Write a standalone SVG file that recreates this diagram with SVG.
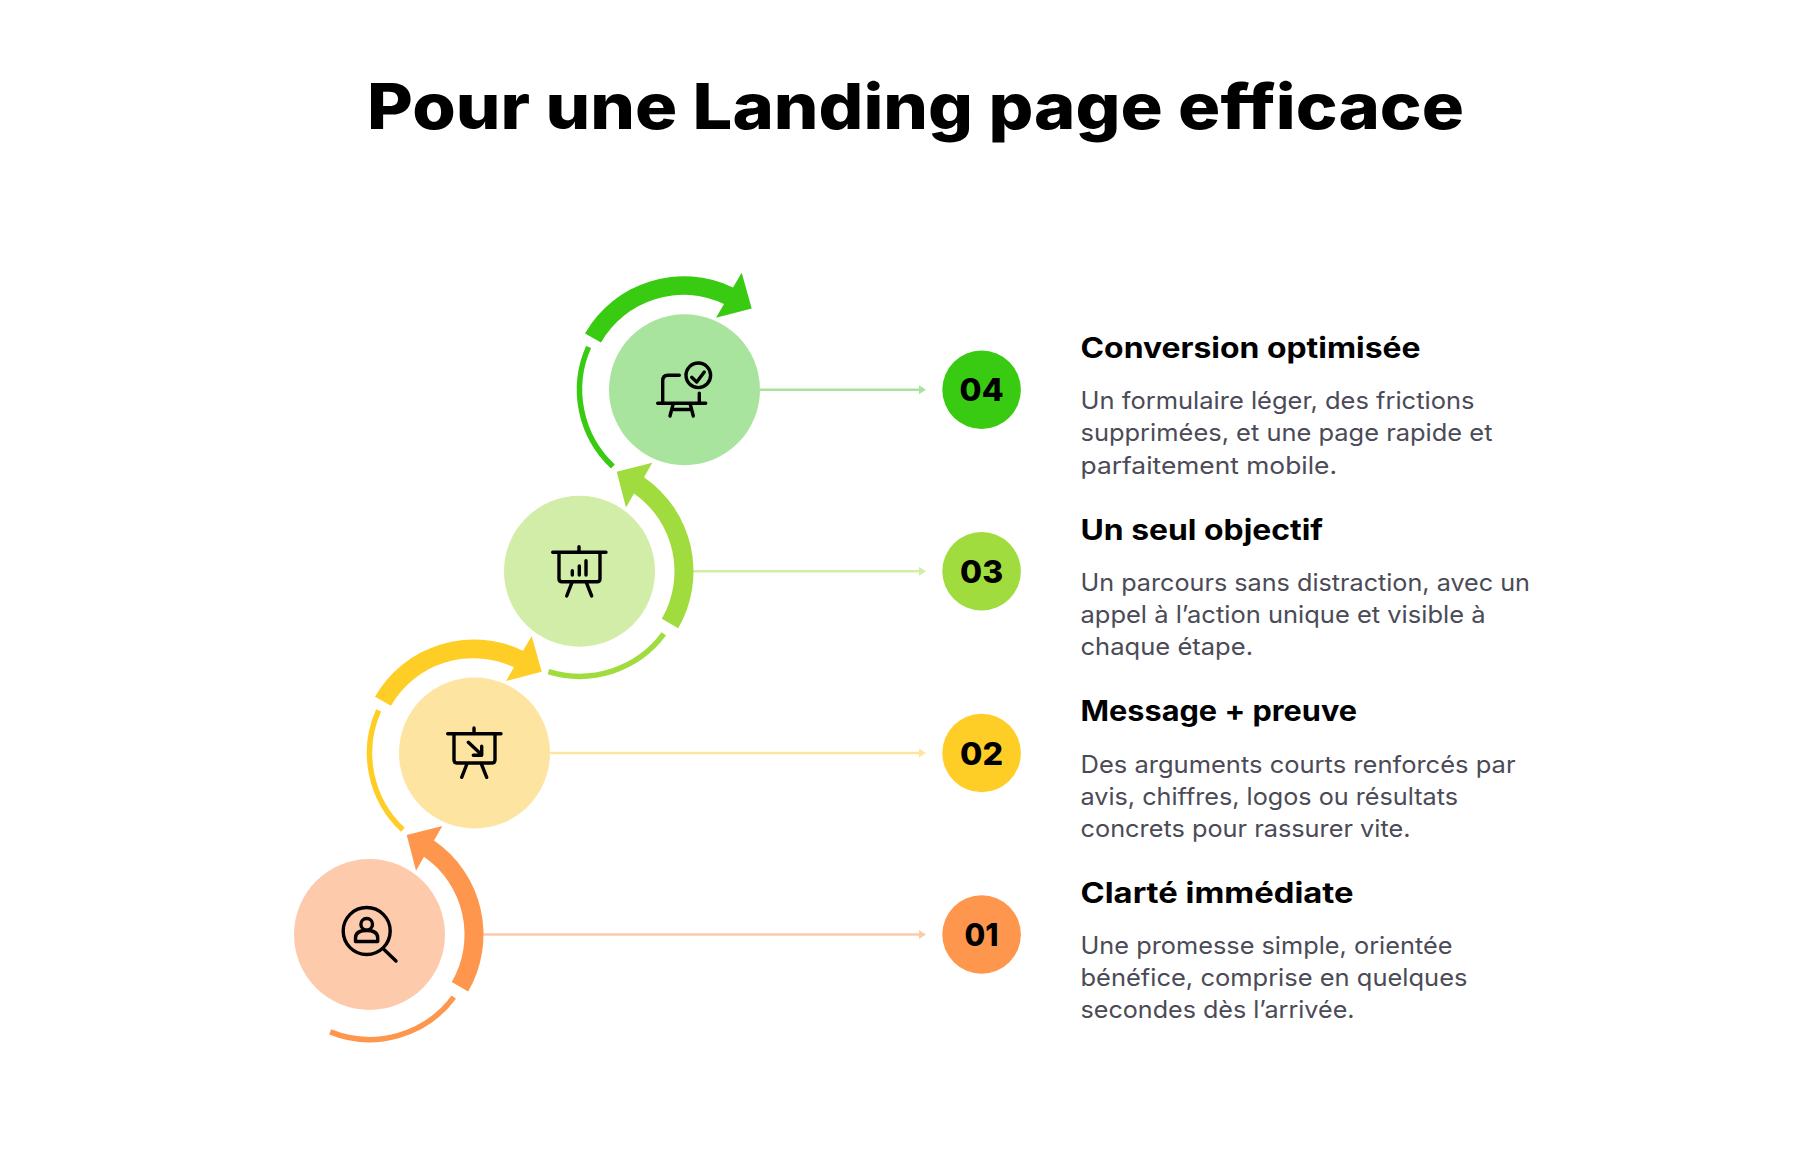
<svg xmlns="http://www.w3.org/2000/svg" width="1800" height="1152" viewBox="0 0 1800 1152">
<style>
text{font-family:"Inter","Noto Sans","Liberation Sans",sans-serif}
.title{font-size:63px;font-weight:800;fill:#000}
.h{font-size:28px;font-weight:700;fill:#000}
.b{font-size:24px;font-weight:400;fill:#4b4b57}
.n{font-size:31px;font-weight:800;fill:#000;text-anchor:middle}
.ic{fill:none;stroke:#000;stroke-width:3.4;stroke-linecap:round;stroke-linejoin:round}
.thin{fill:none;stroke-width:5.5}
.link{fill:none;stroke-width:2.6}
.c1{fill:#ff964d}.c2{fill:#ffce26}.c3{fill:#a0dc3e}.c4{fill:#38cb12}
.l1{fill:#fdcbac}.l2{fill:#fde5a1}.l3{fill:#d2eda8}.l4{fill:#a9e49e}
.s1{stroke:#ff964d}.s2{stroke:#ffce26}.s3{stroke:#a0dc3e}.s4{stroke:#38cb12}
.k1{stroke:#fdcbac}.k2{stroke:#fde5a1}.k3{stroke:#d2eda8}.k4{stroke:#a9e49e}
</style>
<defs>
<path id="thickA" d="M98.7 57A114 114 0 0 0 64.5-94L72.8-108.5L37.2-99.5L46.5-63.8L54.5-77.8A95 95 0 0 1 82.3 47.5Z"/>
<path id="thickB" d="M-99.5-56.3A114 114 0 0 1 48.5-102.3L57.2-117L67.2-81.3L31.5-72L39.5-85.7A95 95 0 0 0-83.5-47.3Z"/>
<path id="thinA" d="M84.3 62.6A105 105 0 0 1-39.3 97.4"/>
<path id="thinC" d="M84.3 62.6A105 105 0 0 1-31 100.3"/>
<path id="thinB" d="M-95.9-42.7A105 105 0 0 0-71.6 76.8"/>
<marker id="m1" markerUnits="userSpaceOnUse" markerWidth="8" markerHeight="10" refX="0" refY="5" orient="auto"><path class="l1" d="M0 .5L7 5L0 9.5Z"/></marker>
<marker id="m2" markerUnits="userSpaceOnUse" markerWidth="8" markerHeight="10" refX="0" refY="5" orient="auto"><path class="l2" d="M0 .5L7 5L0 9.5Z"/></marker>
<marker id="m3" markerUnits="userSpaceOnUse" markerWidth="8" markerHeight="10" refX="0" refY="5" orient="auto"><path class="l3" d="M0 .5L7 5L0 9.5Z"/></marker>
<marker id="m4" markerUnits="userSpaceOnUse" markerWidth="8" markerHeight="10" refX="0" refY="5" orient="auto"><path class="l4" d="M0 .5L7 5L0 9.5Z"/></marker>
</defs>
<rect width="1800" height="1152" fill="#fff"/>
<text id="title" class="title" x="367" y="128.5" textLength="1097" lengthAdjust="spacingAndGlyphs">Pour une Landing page efficace</text>
<g id="connectors">
<path class="link k1" marker-end="url(#m1)" d="M483 934.5H919"/>
<path class="link k2" marker-end="url(#m2)" d="M550 753H919"/>
<path class="link k3" marker-end="url(#m3)" d="M693 571.3H919"/>
<path class="link k4" marker-end="url(#m4)" d="M760 389.7H919"/>
</g>
<g id="step-01">
<circle class="l1" cx="369.5" cy="934.5" r="75.5"/>
<use href="#thickA" class="c1" x="369.5" y="934.5"/>
<use href="#thinA" class="thin s1" x="369.5" y="934.5"/>
<g class="ic"><circle cx="366.7" cy="931" r="23.5"/><path d="M383.5 949L396 961"/><circle cx="366.7" cy="924.3" r="5.8"/><path d="M355.5 941.5V938C355.5 933 360 930.5 366.7 930.5S377.7 933 377.7 938V941.5Z"/></g>
</g>
<g id="step-02">
<circle class="l2" cx="474.5" cy="753" r="75.5"/>
<use href="#thickB" class="c2" x="474.5" y="753"/>
<use href="#thinB" class="thin s2" x="474.5" y="753"/>
<g class="ic"><path d="M447.7 733.7H501M474 728V733.7M454 733.7V760Q454 763 457 763H492Q495 763 495 760V733.7M467.3 763L461.7 777.3M481 763L486.7 777.3M468.3 742.3L481.7 754.7M481.7 746.3V755.3H473.3"/></g>
</g>
<g id="step-03">
<circle class="l3" cx="579.5" cy="571.3" r="75.5"/>
<use href="#thickA" class="c3" x="579.5" y="571.3"/>
<use href="#thinC" class="thin s3" x="579.5" y="571.3"/>
<g class="ic"><path d="M552.7 552.3H606M579 546.7V552.3M559 552.3V578.7Q559 581.7 562 581.7H597Q600 581.7 600 578.7V552.3M572.3 581.7L566.7 596M586 581.7L591.7 596M572.3 570.7V575M579.3 566V575M586 560.7V575"/></g>
</g>
<g id="step-04">
<circle class="l4" cx="684.5" cy="389.7" r="75.5"/>
<use href="#thickB" class="c4" x="684.5" y="389.7"/>
<use href="#thinB" class="thin s4" x="684.5" y="389.7"/>
<g class="ic"><circle cx="698.3" cy="375.3" r="12.3"/><path d="M691.7 377.3L696.7 382L704.3 372M679.3 375.3H668Q662.7 375.3 662.7 381V403.3M657.7 403.3H705.7M699.3 393.3V403.3M673.3 403.3L670 416M690 403.3L693.3 416M671.7 409.5H691.7"/></g>
</g>
<g id="badge-01"><circle class="c1" cx="981.6" cy="934.5" r="39.3"/><text class="n" x="981.6" y="946.2" textLength="34" lengthAdjust="spacingAndGlyphs">01</text></g>
<g id="badge-02"><circle class="c2" cx="981.6" cy="753" r="39.3"/><text class="n" x="981.6" y="764.5" textLength="43" lengthAdjust="spacingAndGlyphs">02</text></g>
<g id="badge-03"><circle class="c3" cx="981.6" cy="571.3" r="39.3"/><text class="n" x="981.6" y="582.8" textLength="43" lengthAdjust="spacingAndGlyphs">03</text></g>
<g id="badge-04"><circle class="c4" cx="981.6" cy="389.7" r="39.3"/><text class="n" x="981.6" y="401.2" textLength="44" lengthAdjust="spacingAndGlyphs">04</text></g>
<g id="text-04">
<text class="h" x="1080.5" y="358" textLength="340" lengthAdjust="spacingAndGlyphs">Conversion optimisée</text>
<text class="b" x="1080.5" y="408.8" textLength="394" lengthAdjust="spacingAndGlyphs">Un formulaire léger, des frictions</text>
<text class="b" x="1080.5" y="441" textLength="412" lengthAdjust="spacingAndGlyphs">supprimées, et une page rapide et</text>
<text class="b" x="1080.5" y="473.8" textLength="256.5" lengthAdjust="spacingAndGlyphs">parfaitement mobile.</text>
</g>
<g id="text-03">
<text class="h" x="1080.5" y="539.6" textLength="242.5" lengthAdjust="spacingAndGlyphs">Un seul objectif</text>
<text class="b" x="1080.5" y="591" textLength="449.5" lengthAdjust="spacingAndGlyphs">Un parcours sans distraction, avec un</text>
<text class="b" x="1080.5" y="623.2" textLength="405" lengthAdjust="spacingAndGlyphs">appel à l’action unique et visible à</text>
<text class="b" x="1080.5" y="655" textLength="172.5" lengthAdjust="spacingAndGlyphs">chaque étape.</text>
</g>
<g id="text-02">
<text class="h" x="1080.5" y="721.4" textLength="276.5" lengthAdjust="spacingAndGlyphs">Message + preuve</text>
<text class="b" x="1080.5" y="772.8" textLength="435" lengthAdjust="spacingAndGlyphs">Des arguments courts renforcés par</text>
<text class="b" x="1080.5" y="805" textLength="377.5" lengthAdjust="spacingAndGlyphs">avis, chiffres, logos ou résultats</text>
<text class="b" x="1080.5" y="837.2" textLength="330" lengthAdjust="spacingAndGlyphs">concrets pour rassurer vite.</text>
</g>
<g id="text-01">
<text class="h" x="1080.5" y="903" textLength="273" lengthAdjust="spacingAndGlyphs">Clarté immédiate</text>
<text class="b" x="1080.5" y="954" textLength="372" lengthAdjust="spacingAndGlyphs">Une promesse simple, orientée</text>
<text class="b" x="1080.5" y="986.2" textLength="387" lengthAdjust="spacingAndGlyphs">bénéfice, comprise en quelques</text>
<text class="b" x="1080.5" y="1018.4" textLength="274" lengthAdjust="spacingAndGlyphs">secondes dès l’arrivée.</text>
</g>
</svg>
